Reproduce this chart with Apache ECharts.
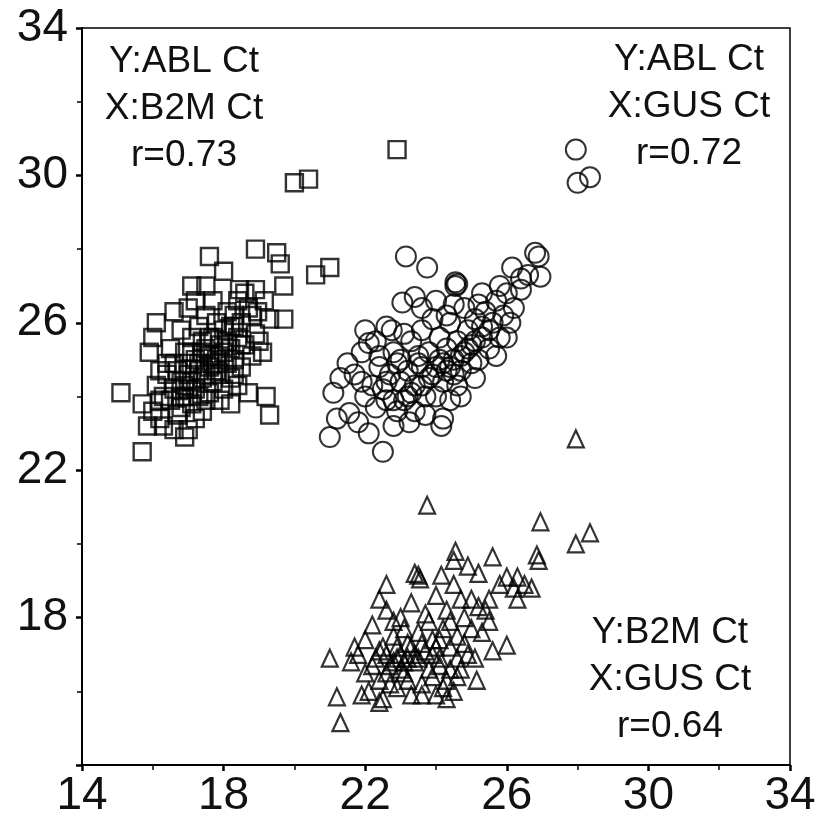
<!DOCTYPE html>
<html>
<head>
<meta charset="utf-8">
<script src="https://cdn.jsdelivr.net/npm/echarts/dist/echarts.min.js"></script>
<style>
  html, body { margin: 0; padding: 0; background: #ffffff; }
  #main { width: 822px; height: 819px; }
</style>
</head>
<body>
<div id="main"></div>
<script>
// axis ticks
var xTicks = [14, 18, 22, 26, 30, 34]
var yTicks = [14, 18, 22, 26, 30, 34]

// Y:ABL Ct  X:B2M Ct  (squares)
var ablB2m = [
  [15.1,24.1],[15.7,22.5],[16.9,22.9],[15.7,23.8],[15.85,23.2],[15.9,25.2],[16.1,26.0],[17.6,27.8],
  [17.5,27.0],[17.2,26.6],[18.0,27.4],[18.45,26.9],[18.9,28.0],[19.5,27.9],[19.6,27.6],[19.7,27.0],
  [19.7,26.1],[19.15,26.6],[18.96,26.3],[19.3,26.1],[19.2,24.0],[19.3,23.5],[20.0,29.8],[20.4,29.9],
  [22.9,30.7],[20.6,27.3],[21.0,27.5],
  [16.0,23.6],[16.2,23.4],[16.3,24.0],[16.1,24.3],[16.4,24.6],[16.5,23.9],[16.6,24.2],[16.2,23.9],
  [16.7,23.5],[16.8,24.4],[16.6,24.9],[16.9,24.0],[16.9,25.2],[17.0,24.6],[17.1,23.8],[17.1,25.6],
  [17.2,24.2],[17.3,24.9],[17.3,25.9],[17.4,24.5],[17.4,23.6],[17.5,25.3],[17.5,26.2],[17.6,24.8],
  [17.6,24.1],[17.7,25.6],[17.7,24.4],[17.8,25.0],[17.8,26.0],[17.9,24.6],[17.9,25.4],[18.0,24.2],
  [18.0,25.8],[18.1,24.9],[18.1,26.3],[18.2,25.3],[18.2,24.5],[18.3,25.9],[18.3,25.0],[18.4,24.3],
  [18.4,25.6],[18.5,26.0],[18.5,24.8],[18.6,25.4],[18.7,26.4],[18.7,24.1],[18.8,25.1],[18.9,25.7],
  [16.5,25.3],[16.8,25.8],[17.0,26.4],[16.4,24.9],[16.7,24.7],[17.2,23.4],[17.0,23.1],[16.3,23.2],
  [17.9,23.9],[18.2,23.8],[17.4,25.5],[17.6,25.1],[17.2,25.0],[17.0,24.9],[17.8,24.7],[18.0,25.2],
  [16.9,24.3],[17.3,24.0],[18.6,26.8],[18.9,26.9],[17.1,27.0],[16.6,26.3],[16.0,25.6],[17.7,26.6],
  [18.4,26.6],[18.8,26.2],[19.0,25.5],[19.1,25.2],[17.5,23.9],[16.8,23.7],[17.1,24.4],[18.3,24.6],
  [16.6,23.1],[16.2,24.7],
  [17.3,24.7],[17.5,24.6],[17.7,24.9],[17.9,25.1],[18.1,25.5],[17.4,25.2],[17.6,25.6],[18.2,25.9],
  [17.0,24.2],[16.8,24.0],[18.5,25.4],[18.3,26.2],[17.1,25.2]
]

// Y:ABL Ct  X:GUS Ct  (circles)
var ablGus = [
  [21.0,22.9],[22.5,22.5],[21.1,24.1],[21.2,23.4],[21.55,23.55],[21.9,24.4],[22.1,25.45],[22.75,25.8],
  [21.9,25.2],[23.15,27.8],[23.75,27.5],[24.55,27.1],[24.55,27.0],[24.6,27.05],[23.05,26.55],[23.6,26.4],
  [26.8,27.9],[26.9,27.8],[26.95,27.25],[26.15,27.5],[26.4,27.2],[25.8,27.0],[27.95,30.7],[28.0,29.8],
  [28.35,29.95],[24.15,23.2],[23.25,23.3],[25.2,26.5],
  [22.0,24.0],[22.2,24.3],[22.3,23.7],[22.4,24.8],[22.5,24.2],[22.6,23.9],[22.7,24.6],[22.8,25.2],
  [22.9,23.6],[23.0,24.4],[23.0,25.0],[23.1,23.9],[23.2,24.7],[23.3,25.5],[23.3,24.1],[23.4,23.6],
  [23.5,24.9],[23.6,24.3],[23.6,25.8],[23.7,24.0],[23.8,25.2],[23.9,24.6],[23.9,26.1],[24.0,24.0],
  [24.1,25.0],[24.1,25.6],[24.2,24.4],[24.3,25.3],[24.4,24.8],[24.4,26.0],[24.5,25.0],[24.6,25.5],
  [24.7,24.7],[24.8,25.2],[24.9,25.8],[25.0,24.9],[25.0,25.4],[25.1,26.1],[25.2,25.0],[25.3,25.6],
  [25.4,26.3],[25.5,25.3],[25.6,26.0],[25.7,26.6],[25.8,25.6],[25.9,26.2],[26.0,26.8],[26.1,26.0],
  [26.2,26.4],[26.4,26.9],[26.6,27.3],[23.4,26.7],[24.0,26.6],[24.3,26.2],[22.3,25.5],[22.6,25.9],
  [21.5,24.9],[21.8,23.3],[22.1,23.0],[22.8,23.2],[23.7,23.5],[24.4,23.9],[24.6,24.3],[25.1,24.5],
  [21.7,24.6],[22.4,25.1],[23.1,25.7],[24.8,26.4],[25.3,26.8],[24.2,23.4],[22.9,24.9],[23.5,25.1],
  [24.7,24.0],[25.7,25.1],[26.0,25.6],[24.5,26.5],[21.3,24.5],[22.0,25.8],
  [23.8,24.5],[24.0,24.8],[24.2,24.9],[24.5,24.6],[24.7,25.1],[24.9,25.3],[25.1,25.5],[24.3,24.7],
  [23.6,24.8],[23.4,24.3],[23.2,24.0],[22.8,23.9],[22.6,24.4],[25.3,25.9],[25.5,25.8]
]

// Y:B2M Ct  X:GUS Ct  (triangles)
var b2mGus = [
  [23.75,21.05],[26.95,20.6],[27.95,20.0],[27.95,22.85],[28.35,20.3],[21.0,16.9],[21.2,15.85],[21.3,15.15],
  [21.6,16.8],[26.0,17.25],[25.15,16.3],[25.6,19.65],[26.9,19.55],[26.85,19.7],[24.55,19.8],[24.5,19.55],
  [23.5,19.15],[24.15,19.15],[23.55,19.05],
  [25.8,18.9],[26.0,19.1],[26.2,18.8],[26.3,19.1],[26.5,18.9],[25.5,18.5],[25.2,18.3],[26.7,18.8],
  [21.8,17.0],[22.0,16.5],[22.0,17.4],[22.1,16.0],[22.2,17.8],[22.3,16.9],[22.4,16.3],[22.5,17.2],
  [22.5,15.8],[22.6,18.2],[22.7,16.7],[22.8,17.5],[22.9,16.1],[23.0,17.0],[23.0,18.0],[23.1,16.5],
  [23.2,17.3],[23.3,15.9],[23.3,18.4],[23.4,16.8],[23.5,17.6],[23.6,16.2],[23.7,17.1],[23.7,18.1],
  [23.8,16.6],[23.9,17.4],[24.0,15.9],[24.0,18.6],[24.1,16.9],[24.2,17.7],[24.3,16.3],[24.3,18.2],
  [24.4,17.2],[24.5,16.0],[24.5,18.9],[24.6,17.5],[24.7,16.6],[24.8,18.0],[24.9,17.0],[25.0,17.7],
  [25.0,18.5],[25.1,16.9],[25.3,17.6],[25.4,18.2],[25.6,17.1],[22.4,18.5],[22.2,16.7],[22.9,16.9],
  [23.5,16.9],[23.9,16.4],[24.2,16.1],[24.6,16.4],[23.2,16.3],[22.7,16.2],[21.9,15.9],[22.4,15.7],
  [23.6,15.9],[24.3,15.8],[22.6,18.9],[23.4,19.2],[22.8,17.9],[23.1,17.7],[24.7,18.5],[25.2,19.2],
  [24.9,19.4],[23.8,17.9],[24.4,17.9],[25.5,17.9],[26.3,18.5],[24.1,17.4],[23.4,17.0],[22.9,17.2],
  [24.8,17.3],[21.7,17.2],[22.6,16.5],
  [22.6,17.0],[22.8,16.8],[23.0,16.6],[23.2,16.9],[23.6,17.3],[23.9,17.0],[24.1,16.7],[24.4,16.6],
  [24.6,16.9],[22.4,17.1],[23.3,17.2],[24.0,17.2],[23.1,16.8]
]

// text blocks in the corners
var notes = [
  { lines: ['Y:ABL Ct', 'X:B2M Ct', 'r=0.73'], x: 184, y: 62 },
  { lines: ['Y:ABL Ct', 'X:GUS Ct', 'r=0.72'], x: 689, y: 60 },
  { lines: ['Y:B2M Ct', 'X:GUS Ct', 'r=0.64'], x: 670, y: 633 }
]

var fontName = '"Liberation Sans", Arial, sans-serif'
var myCharts = echarts.init(document.getElementById('main'))

var graphics = []
notes.forEach(function (n) {
  n.lines.forEach(function (t, i) {
    graphics.push({
      type: 'text',
      x: n.x,
      y: n.y + i * 47,
      style: {
        text: t,
        fill: '#111111',
        font: '37px ' + fontName,
        textAlign: 'center',
        textVerticalAlign: 'middle'
      },
      z: 10
    })
  })
})

function axisCfg(ticks, isY) {
  return {
    type: 'value',
    min: ticks[0],
    max: ticks[ticks.length - 1],
    interval: ticks[1] - ticks[0],
    axisLine: { show: true, onZero: false, lineStyle: { color: '#000000', width: 2 } },
    axisTick: { show: true, inside: false, length: 6, lineStyle: { color: '#000000', width: 2.5 } },
    minorTick: { show: true, splitNumber: 2, length: 5, lineStyle: { color: '#000000', width: 1.5 } },
    splitLine: { show: false },
    minorSplitLine: { show: false },
    axisLabel: {
      color: '#111111',
      fontSize: 46,
      fontFamily: fontName,
      margin: isY ? 14 : 8,
      showMinLabel: !isY
    }
  }
}

var option = {
  backgroundColor: '#ffffff',
  animation: false,
  grid: {
    left: 82,
    right: 32,
    top: 28,
    bottom: 54,
    show: true,
    borderColor: '#000000',
    borderWidth: 1.5,
    containLabel: false
  },
  xAxis: axisCfg(xTicks, false),
  yAxis: axisCfg(yTicks, true),
  graphic: graphics,
  series: [
    {
      name: 'ABL vs B2M',
      type: 'scatter',
      symbol: 'rect',
      symbolSize: 17,
      itemStyle: { color: 'rgba(0,0,0,0)', borderColor: '#000000', borderWidth: 2.4 },
      data: ablB2m
    },
    {
      name: 'ABL vs GUS',
      type: 'scatter',
      symbol: 'circle',
      symbolSize: 20,
      itemStyle: { color: 'rgba(0,0,0,0)', borderColor: '#000000', borderWidth: 2 },
      data: ablGus
    },
    {
      name: 'B2M vs GUS',
      type: 'scatter',
      symbol: 'triangle',
      symbolSize: [16, 17],
      itemStyle: { color: 'rgba(0,0,0,0)', borderColor: '#000000', borderWidth: 2.2 },
      data: b2mGus
    }
  ]
}
myCharts.setOption(option)
</script>
</body>
</html>
